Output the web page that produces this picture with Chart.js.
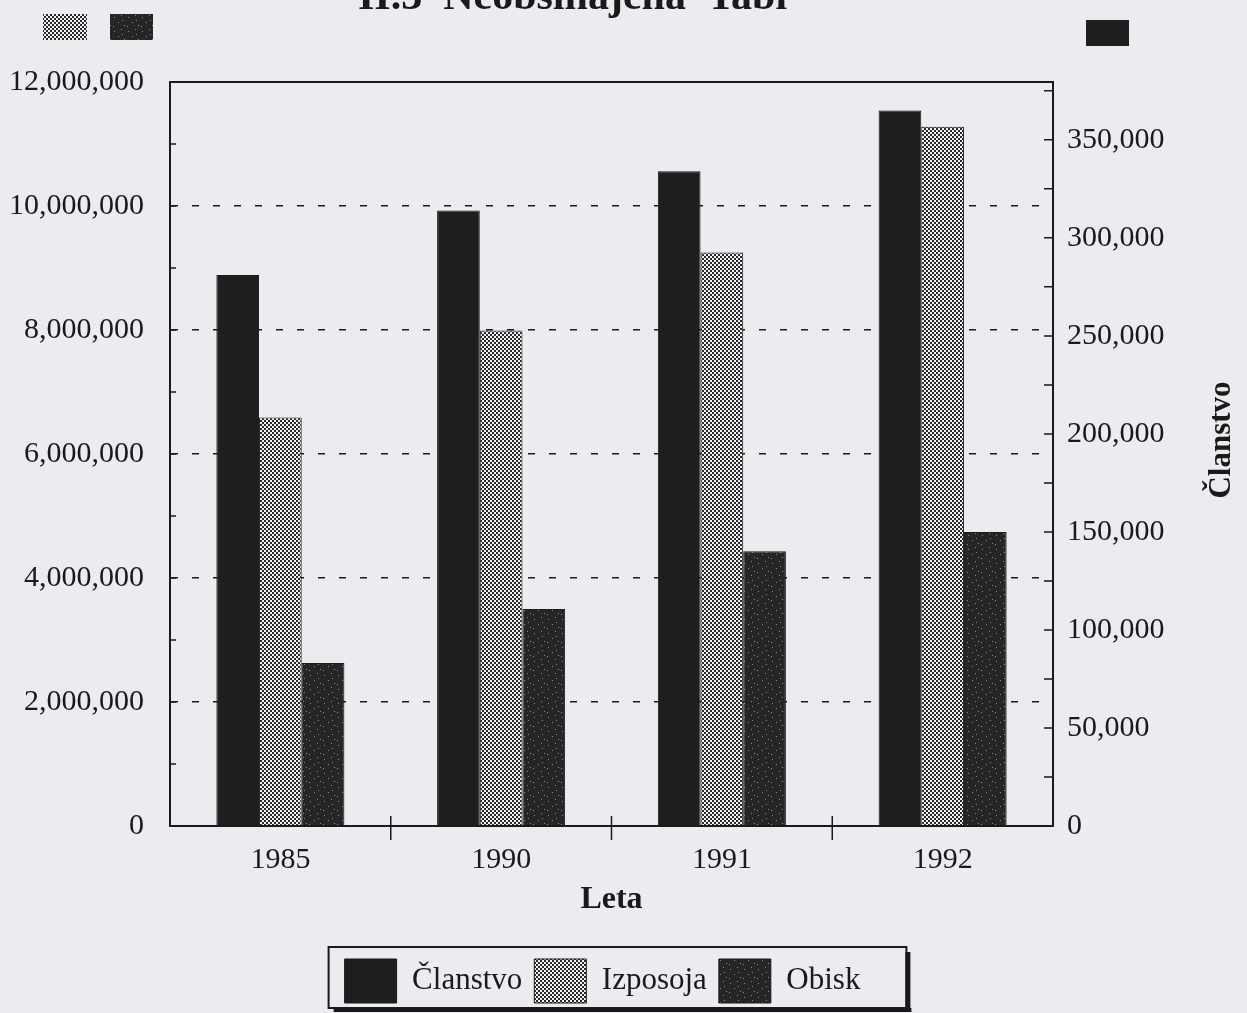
<!DOCTYPE html>
<html>
<head>
<meta charset="utf-8">
<script src="https://cdn.jsdelivr.net/npm/chart.js@4.4.1/dist/chart.umd.min.js"></script>
<style>
  body { margin: 0; background: #ecebef; }
  #wrap { width: 1247px; height: 1013px; position: relative; }
</style>
</head>
<body>
<div id="wrap"><canvas id="chart"></canvas></div>
<script>
const years = ['1985', '1990', '1991', '1992'];
const clanstvo = [281000, 314000, 334000, 365000];
const izposoja = [6590000, 7990000, 9250000, 11280000];
const obisk = [2630000, 3500000, 4430000, 4740000];
const leftMax = 12000000;
const rightMax = 379500;
const rightTicks = [0, 50000, 100000, 150000, 200000, 250000, 300000, 350000];

const serif = "'Liberation Serif', 'DejaVu Serif', serif";
const ink = '#1a1a1a';

function makePattern(size, bg, fg, dots) {
    const c = document.createElement('canvas');
    c.width = size;
    c.height = size;
    const g = c.getContext('2d');
    g.fillStyle = bg;
    g.fillRect(0, 0, size, size);
    g.fillStyle = fg;
    dots.forEach(d => g.fillRect(d[0], d[1], d[2], d[2]));
    return g.createPattern(c, 'repeat');
}

const fillClanstvo = '#1e1e1e';
const fillIzposoja = makePattern(4, '#f2f2f2', '#2a2a2a', [[0, 0, 2], [2, 2, 2]]);
const fillObisk = makePattern(14, '#262626', '#8a8a8a',
    [[2, 3, 1], [9, 1, 1], [6, 8, 1], [12, 11, 1], [1, 12, 1], [10, 6, 1]]);

// small inward ticks, category separators, frame, titles, axis markers
const decor = {
    id: 'decor',
    afterLayout(chart) {
        chart.legend.left -= 21;
        chart.legend.right -= 21;
    },
    afterDraw(chart) {
        const ctx = chart.ctx;
        const a = chart.chartArea;
        const x = chart.scales.x;
        const yl = chart.scales.y;
        const yr = chart.scales.y1;
        ctx.save();
        ctx.strokeStyle = ink;
        ctx.lineWidth = 2;
        ctx.strokeRect(a.left, a.top, a.right - a.left, a.bottom - a.top);

        ctx.lineWidth = 1.5;
        ctx.beginPath();
        for (let v = 1000000; v < leftMax; v += 1000000) {
            const py = yl.getPixelForValue(v);
            ctx.moveTo(a.left, py);
            ctx.lineTo(a.left + 6, py);
        }
        for (let v = 25000; v < rightMax; v += 25000) {
            const py = yr.getPixelForValue(v);
            ctx.moveTo(a.right, py);
            ctx.lineTo(a.right - 9, py);
        }
        for (let i = 0; i < years.length - 1; i++) {
            const px = (x.getPixelForValue(i) + x.getPixelForValue(i + 1)) / 2;
            ctx.moveTo(px, a.bottom - 10);
            ctx.lineTo(px, a.bottom + 14);
        }
        ctx.stroke();

        // plot title, cut by the top edge
        ctx.fillStyle = ink;
        ctx.font = 'bold 42px ' + serif;
        ctx.textAlign = 'left';
        ctx.textBaseline = 'alphabetic';
        ctx.fillText('II.3  Neobsinajena  Tabl', 358, 9);

        // right axis title, reading upwards
        ctx.font = 'bold 31px ' + serif;
        ctx.translate(1222, 440);
        ctx.rotate(-Math.PI / 2);
        ctx.textAlign = 'center';
        ctx.textBaseline = 'middle';
        ctx.fillText('Članstvo', 0, 0);
        ctx.setTransform(1, 0, 0, 1, 0, 0);

        // axis markers
        ctx.fillStyle = fillIzposoja;
        ctx.fillRect(43, 14, 44, 26);
        ctx.fillStyle = fillObisk;
        ctx.fillRect(110, 14, 43, 26);
        ctx.fillStyle = fillClanstvo;
        ctx.fillRect(1086, 20, 43, 26);

        // legend frame with shadow
        const boxes = chart.legend.legendHitBoxes;
        if (boxes.length) {
            const l = boxes[0].left - 16;
            const r = boxes[boxes.length - 1].left + boxes[boxes.length - 1].width + 46;
            const t = chart.legend.top;
            const b = 1011;
            ctx.fillStyle = ink;
            ctx.fillRect(l + 5, b - 3, r - l, 4);
            ctx.fillRect(r - 1, t + 5, 5, b - t - 4);
            ctx.lineWidth = 2;
            ctx.strokeStyle = ink;
            ctx.strokeRect(l, t, r - l, b - t - 3);
        }
        ctx.restore();
    }
};

const ctx = document.getElementById('chart').getContext('2d');
const chart = new Chart(ctx, {
    type: 'bar',
    data: {
        labels: years,
        datasets: [
            {
                label: 'Članstvo',
                data: clanstvo,
                yAxisID: 'y1',
                backgroundColor: fillClanstvo,
                borderColor: ink,
                borderWidth: 1
            },
            {
                label: 'Izposoja',
                data: izposoja,
                yAxisID: 'y',
                backgroundColor: fillIzposoja,
                borderColor: ink,
                borderWidth: 1
            },
            {
                label: 'Obisk',
                data: obisk,
                yAxisID: 'y',
                backgroundColor: fillObisk,
                borderColor: ink,
                borderWidth: 1
            }
        ]
    },
    options: {
        responsive: true,
        maintainAspectRatio: false,
        animation: false,
        devicePixelRatio: 1,
        layout: { padding: { top: 82, left: 0, right: 0, bottom: 0 } },
        datasets: {
            bar: { categoryPercentage: 0.58, barPercentage: 1.0 }
        },
        plugins: {
            tooltip: { enabled: false },
            legend: {
                position: 'bottom',
                labels: {
                    color: ink,
                    font: { family: serif, size: 31 },
                    boxWidth: 52,
                    boxHeight: 44,
                    padding: 12
                }
            }
        },
        scales: {
            x: {
                offset: true,
                grid: { display: false },
                border: { color: ink, width: 2 },
                ticks: { color: ink, font: { family: serif, size: 30 }, padding: 8 },
                title: {
                    display: true,
                    text: 'Leta',
                    color: ink,
                    font: { family: serif, size: 32, weight: 'bold' },
                    padding: { top: 0, bottom: 28 }
                },
                afterFit: s => { s.height = 121; }
            },
            y: {
                position: 'left',
                min: 0,
                max: leftMax,
                grid: { color: ink, lineWidth: 1.5, drawTicks: false },
                border: { color: ink, width: 2, dash: [7, 14] },
                ticks: {
                    stepSize: 2000000,
                    color: ink,
                    font: { family: serif, size: 30 },
                    padding: 26,
                    callback: v => v.toLocaleString('en-US')
                },
                afterFit: s => { s.width = 170; }
            },
            y1: {
                position: 'right',
                min: 0,
                max: rightMax,
                grid: { display: false },
                border: { color: ink, width: 2 },
                ticks: {
                    autoSkip: false,
                    color: ink,
                    font: { family: serif, size: 30 },
                    padding: 6,
                    callback: v => v.toLocaleString('en-US')
                },
                afterBuildTicks: s => {
                    s.ticks = rightTicks.map(v => ({ value: v }));
                },
                afterFit: s => { s.width = 194; }
            }
        }
    },
    plugins: [decor]
});
</script>
</body>
</html>
